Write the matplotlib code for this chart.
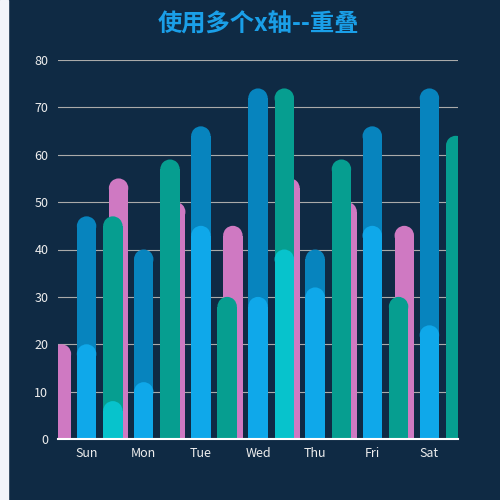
import matplotlib.pyplot as plt
from matplotlib.patches import Ellipse, Rectangle

plt.rcParams['font.family'] = ['Noto Sans CJK SC', 'DejaVu Sans']

days = ['Sun', 'Mon', 'Tue', 'Wed', 'Thu', 'Fri', 'Sat']

# 第一组 x 轴上的两列（重叠）
dark_blue = [47, 40, 66, 74, 40, 66, 74]
light_blue = [20, 12, 45, 30, 32, 45, 24]
# 第二组 x 轴（向右偏移）
pink = [20, 55, 50, 45, 55, 50, 45]
green = [47, 59, 30, 74, 59, 30, 64]
cyan = [8, 0, 0, 40, 0, 0, 0]

# 各组相对类目中心的偏移
off_blue = 0.0
off_pink = -0.44
off_green = 0.46
bar_w = 0.34

bg = '#0f2a44'
fig = plt.figure(figsize=(5, 5), dpi=100, facecolor=bg)
fig.add_artist(Rectangle((0, 0), 8 / 500, 1, transform=fig.transFigure,
                         color='#f2f4f9', zorder=0))
ax = fig.add_axes([0.116, 0.122, 0.8, 0.758])
ax.set_facecolor(bg)
ax.set_xlim(-0.5, 6.5)
ax.set_ylim(0, 80)

# 顶部圆角的半径（数据单位）
px_per_y = 0.758 * 500 / 80
ry = (bar_w * 0.8 * 500 / 7) / 2 / px_per_y


def round_bars(offset, values, color, z):
    for i, v in enumerate(values):
        if v <= 0:
            continue
        x = i + offset
        ax.add_patch(Rectangle((x - bar_w / 2, 0), bar_w, v - ry,
                               facecolor=color, edgecolor='none', zorder=z))
        ax.add_patch(Ellipse((x, v - ry), bar_w, 2 * ry,
                             facecolor=color, edgecolor='none', zorder=z))


round_bars(off_blue, dark_blue, '#0784be', 2)
round_bars(off_blue, light_blue, '#0fa8ea', 3)
round_bars(off_pink, pink, '#cf79c2', 2)
round_bars(off_green, green, '#069e90', 3)
round_bars(off_green, cyan, '#07c3cc', 4)

ax.set_yticks(range(0, 81, 10))
ax.set_xticks(range(7))
ax.set_xticklabels(days)
ax.tick_params(colors='#eeeeee', labelsize=9, length=0, pad=6)
ax.tick_params(axis='y', pad=7)
ax.grid(axis='y', color='#aaaaaa', linewidth=0.8)
ax.set_axisbelow(True)
for s in ['top', 'right', 'left']:
    ax.spines[s].set_visible(False)
ax.spines['bottom'].set_color('white')
ax.spines['bottom'].set_linewidth(1.5)
ax.spines['bottom'].set_zorder(5)

fig.text(258 / 500, 1 - 25 / 500, '使用多个x轴--重叠', color='#1a9fe8',
         fontsize=17.5, fontweight='bold', ha='center', va='center')

fig.savefig('out.png', dpi=100, facecolor=bg)
